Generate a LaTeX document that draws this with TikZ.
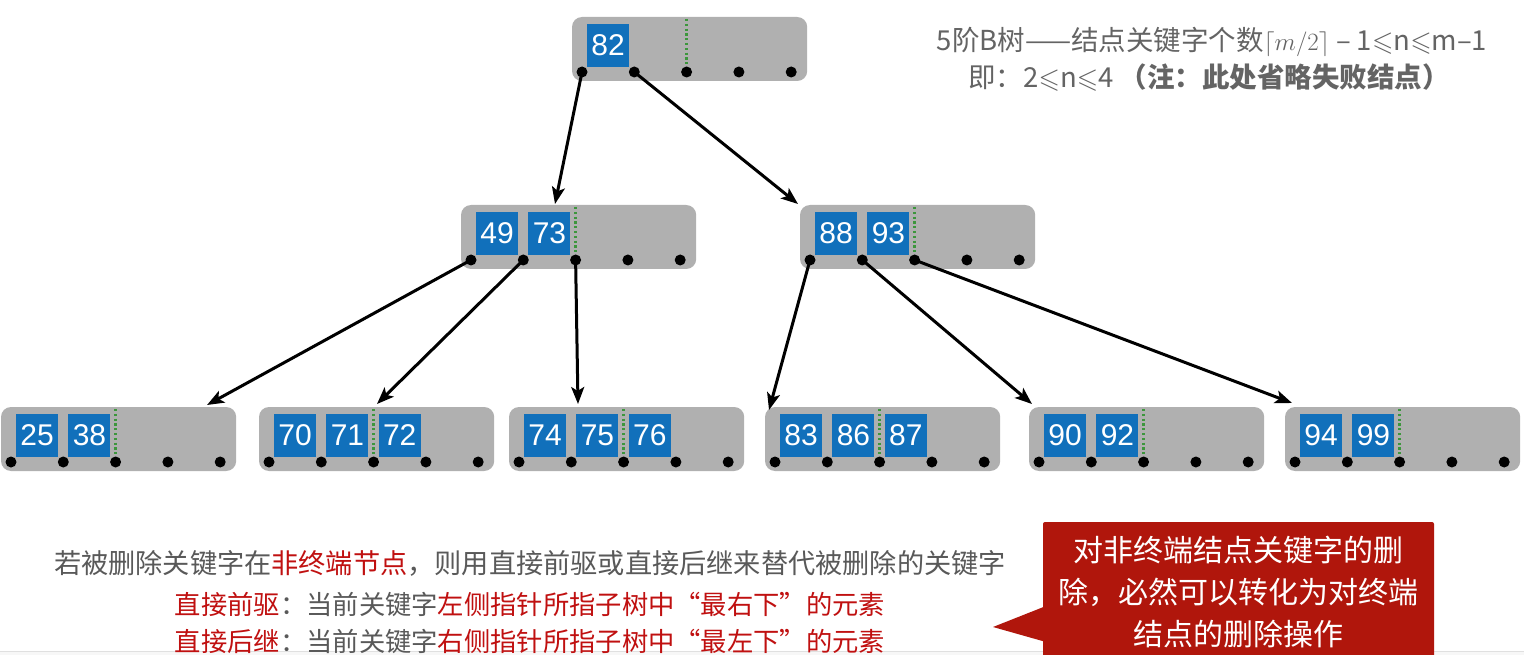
\documentclass[tikz,border=0pt]{standalone}
\usepackage{fontspec}
\usepackage{amssymb}
\setmainfont{Noto Sans CJK SC}
\newfontfamily\keyfont{Liberation Sans}
\usetikzlibrary{arrows.meta,calc}
\definecolor{keyblue}{RGB}{17,112,187}
\definecolor{boxgray}{RGB}{176,176,176}
\definecolor{txtgray}{RGB}{89,89,89}
\definecolor{toptxt}{RGB}{100,100,100}
\definecolor{hlred}{RGB}{192,16,16}
\definecolor{calloutred}{RGB}{176,22,12}
\definecolor{dotgreen}{RGB}{60,150,60}
\tikzset{
  graybox/.style={fill=boxgray, rounded corners=10pt, draw=none, minimum width=235.2pt, minimum height=64pt, inner sep=0pt},
  keybox/.style={fill=keyblue, text=white, minimum width=42pt, minimum height=43pt, inner sep=0pt, font=\keyfont\fontsize{30}{30}\selectfont},
  greendot/.style={dotgreen, line width=2.4pt, dash pattern=on 2.2pt off 2.6pt},
  ptr/.style={line width=3pt, -{Stealth[length=17pt,width=13pt,inset=4pt]}},
  txt/.style={inner sep=0pt, text=txtgray}
}
\newcommand\bnode[4]{%
  \node[graybox] (#1) at ({#2+107.6},{#3-23}) {};
  \foreach \i in {0,...,4} {\coordinate (#1-\i) at ({#2+52.3*\i},#3);}
  \foreach \k [count=\c from 0] in {#4} {\node[keybox] (#1-k\c) at ({#2+26.15+52.3*\c},{#3-26.5}) {\k};}
  \draw[greendot] ({#2+104.6},{#3-53}) -- (#1-2);
}
\newcommand\bdots[1]{\foreach \i in {0,...,4} {\fill (#1-\i) circle (5.5);}}
\begin{document}
\begin{tikzpicture}[x=1pt,y=-1pt]
\useasboundingbox (0,0) rectangle (1524,655);
\fill[white] (0,0) rectangle (1524,655);
% bottom strip
\fill[black!3] (0,651) rectangle (1524,655);
\draw[black!12, line width=1pt] (0,651) -- (1524,651);
% nodes
\bnode{R}{582}{72}{82}
\bnode{A}{471}{260}{49,73}
\bnode{B}{810}{260}{88,93}
\bnode{C1}{11}{462}{25,38}
\bnode{C2}{269}{462}{70,71,72}
\bnode{C3}{519}{462}{74,75,76}
\bnode{C4}{775}{462}{83,86,87}
\bnode{C5}{1039}{462}{90,92}
\bnode{C6}{1295}{462}{94,99}
% arrow targets
\coordinate (tA) at (555,204);
\coordinate (tB) at (798,204);
\coordinate (t1) at (207,405);
\coordinate (t2) at (377,404);
\coordinate (t3) at (578,404);
\coordinate (t4) at (769,410);
\coordinate (t5) at (1032,404);
\coordinate (t6) at (1292,403);
\draw[ptr] (R-0) -- (tA);
\draw[ptr] (R-1) -- (tB);
\draw[ptr] (A-0) -- (t1);
\draw[ptr] (A-1) -- (t2);
\draw[ptr] (A-2) -- (t3);
\draw[ptr] (B-0) -- (t4);
\draw[ptr] (B-1) -- (t5);
\draw[ptr] (B-2) -- (t6);
\foreach \n in {R,A,B,C1,C2,C3,C4,C5,C6} {\bdots{\n}}
% top-right text
\node[txt, text=toptxt, font=\fontsize{27.5}{30}\selectfont] (info1) at (1212,42) {5阶B树——结点关键字个数$\lceil m/2\rceil$ – 1$\leqslant$n$\leqslant$m–1};
\node[txt, text=toptxt, font=\fontsize{27.5}{30}\selectfont] (info2) at (1209,78) {即：2$\leqslant$n$\leqslant$4 {\bfseries （注：此处省略失败结点）}};
% bottom text
\node[txt, font=\fontsize{27.2}{30}\selectfont] (l1) at (530,563) {若被删除关键字在{\color{hlred}非终端节点}，则用直接前驱或直接后继来替代被删除的关键字};
\node[txt, font=\fontsize{26.3}{30}\selectfont] (l2) at (530,604) {{\color{hlred}直接前驱}：当前关键字{\color{hlred}左侧指针所指子树中“最右下”的元素}};
\node[txt, font=\fontsize{26.3}{30}\selectfont] (l3) at (530,641) {{\color{hlred}直接后继}：当前关键字{\color{hlred}右侧指针所指子树中“最左下”的元素}};
% callout
\fill[calloutred, rounded corners=2pt] (1043,522) rectangle (1434,660);
\fill[calloutred] (1046,606) -- (993,627) -- (1046,642) -- cycle;
\node[inner sep=0pt, text=white, align=center, font=\fontsize{30}{42}\selectfont] (callout) at (1238,592) {对非终端结点关键字的删\\除，必然可以转化为对终端\\结点的删除操作};
\end{tikzpicture}
\end{document}
